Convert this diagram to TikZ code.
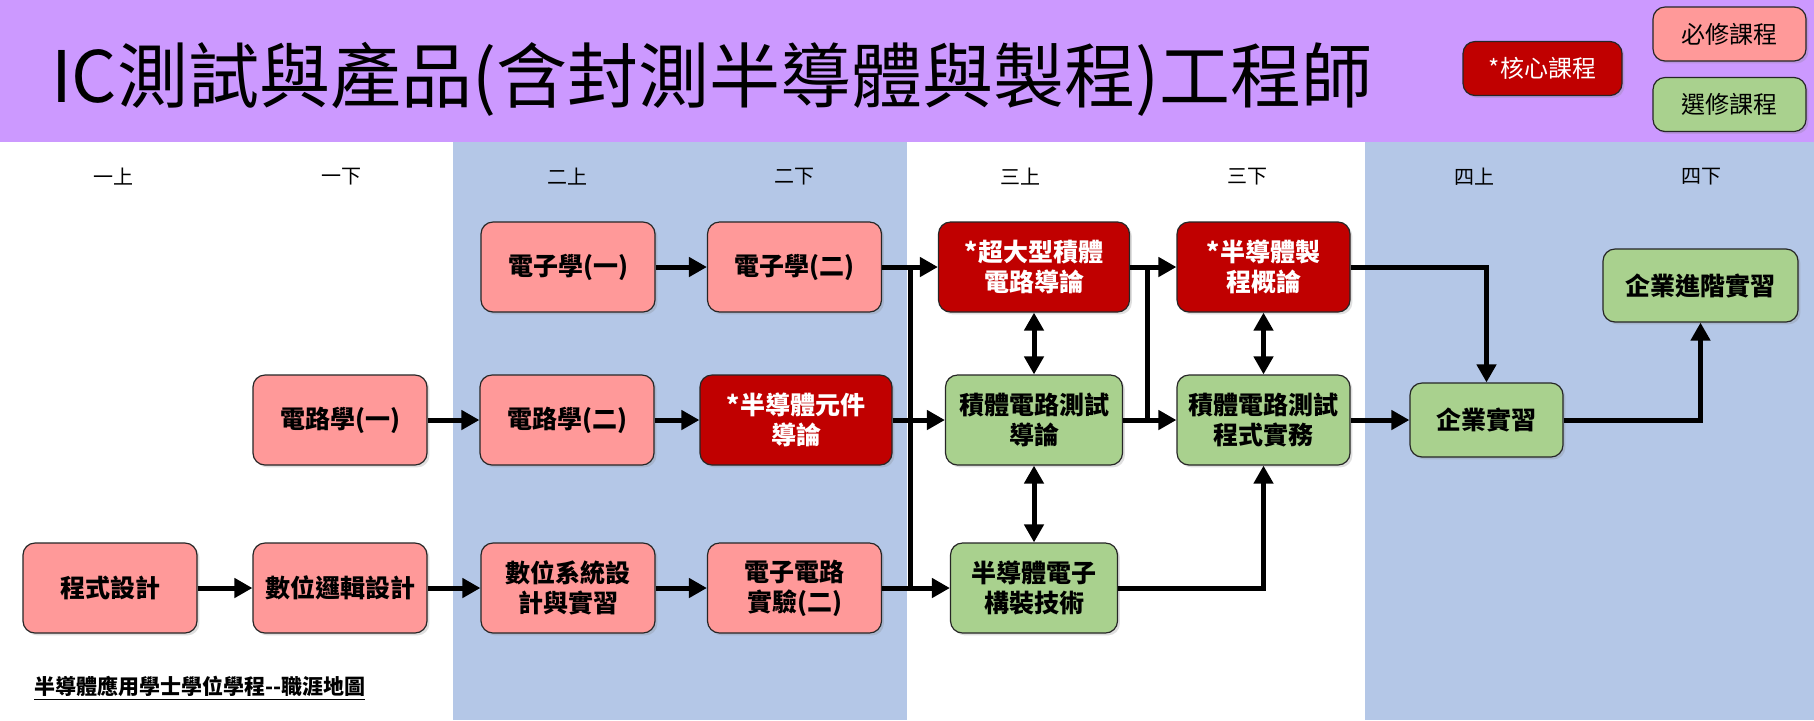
\documentclass[tikz,border=0pt]{standalone}
\usepackage{fontspec}
\setmainfont{Noto Sans CJK TC}
\usepackage{tikz}
\usetikzlibrary{arrows.meta,positioning,calc,shadows}
\definecolor{head}{RGB}{204,153,255}
\definecolor{band}{RGB}{180,199,231}
\definecolor{req}{RGB}{255,153,153}
\definecolor{ele}{RGB}{169,209,142}
\definecolor{core}{RGB}{192,0,0}

\begin{document}
\begin{tikzpicture}[x=0.5pt, y=-0.5pt, font=\bfseries\fontsize{12.5}{15}\selectfont, box/.style={draw=black!85, line width=0.6pt, rounded corners=6pt, align=center, inner sep=2pt, minimum width=87pt, minimum height=45pt, drop shadow={opacity=0.25, shadow xshift=1.2pt, shadow yshift=-1.2pt}}, rq/.style={box, fill=req}, el/.style={box, fill=ele}, cr/.style={box, fill=core, text=white}, arr/.style={-{Triangle[length=9pt,width=9.5pt]}, line width=2.5pt}, dbl/.style={{Triangle[length=9pt,width=9.5pt]}-{Triangle[length=9pt,width=9.5pt]}, line width=2.5pt}, lin/.style={line width=2.5pt}, sem/.style={font=\fontsize{10}{12}\selectfont}, leg/.style={minimum height=27pt, font=\fontsize{12}{14}\selectfont}]
\fill[white] (0,0) rectangle (1814,720);
\fill[head] (0,0) rectangle (1814,142);
\fill[band] (453,142) rectangle (907,720);
\fill[band] (1365,142) rectangle (1814,720);
\node[anchor=west, font=\fontsize{35.5}{40}\selectfont] (title) at (44,79) {IC測試與產品(含封測半導體與製程)工程師};
\node[cr, leg, minimum width=79.5pt] (lcore) at (1542.5,68.5) {*核心課程};
\node[rq, leg, minimum width=76.5pt] (lreq) at (1729.5,34) {必修課程};
\node[el, leg, minimum width=76.5pt] (lele) at (1729.5,104.5) {選修課程};
\foreach \x/\t [count=\i] in {113/一上,341/一下,567/二上,794/二下,1020/三上,1247/三下,1474/四上,1701/四下}
  \node[sem] (sem\i) at (\x,177) {\t};
\node[rq] (ee1) at (568,267) {電子學(一)};
\node[rq] (ee2) at (794.5,267) {電子學(二)};
\node[rq] (ckt1) at (340,420) {電路學(一)};
\node[rq] (ckt2) at (567,420) {電路學(二)};
\node[cr, minimum width=96pt] (dev) at (796,420) {*半導體元件\\導論};
\node[rq] (prog) at (110,588) {程式設計};
\node[rq] (dlogic) at (340,588) {數位邏輯設計};
\node[rq] (dsys) at (568,588) {數位系統設\\計與實習};
\node[rq] (lab2) at (794.5,588) {電子電路\\實驗(二)};
\node[cr, minimum width=95.5pt] (vlsi) at (1034,267) {*超大型積體\\電路導論};
\node[el, minimum width=88.5pt] (ictest) at (1034,420) {積體電路測試\\導論};
\node[el, minimum width=83.5pt] (pkg) at (1034,588) {半導體電子\\構裝技術};
\node[cr, minimum width=86.5pt] (proc) at (1263.5,267) {*半導體製\\程概論};
\node[el, minimum width=86.5pt] (icprog) at (1263.5,420) {積體電路測試\\程式實務};
\node[el, minimum width=76.5pt, minimum height=37pt] (intern) at (1486.5,420) {企業實習};
\node[el, minimum width=97.5pt, minimum height=36.5pt] (advintern) at (1700.5,285.5) {企業進階實習};
\node[anchor=west, font=\bfseries\fontsize{10.5}{13}\selectfont] (foot) at (27,688) {\underline{半導體應用學士學位學程-{}-職涯地圖}};
\coordinate (bus) at (910,0);
\coordinate (bus2) at (1147,0);
\draw[arr] (ee1) -- (ee2);
\draw[arr] (ckt1) -- (ckt2);
\draw[arr] (ckt2) -- (dev);
\draw[arr] (prog) -- (dlogic);
\draw[arr] (dlogic) -- (dsys);
\draw[arr] (dsys) -- (lab2);
\draw[lin] (ee2.east -| bus) -- (lab2.east -| bus);
\draw[arr] (ee2) -- (vlsi);
\draw[arr] (dev) -- (ictest);
\draw[arr] (lab2) -- (pkg);
\draw[lin] (vlsi.east -| bus2) -- (ictest.east -| bus2);
\draw[arr] (vlsi) -- (proc);
\draw[arr] (ictest) -- (icprog);
\draw[dbl] (vlsi) -- (ictest);
\draw[dbl] (ictest) -- (pkg);
\draw[dbl] (proc) -- (icprog);
\draw[arr] (pkg) -| (icprog);
\draw[arr] (proc) -| (intern);
\draw[arr] (icprog) -- (intern);
\draw[arr] (intern) -| (advintern);
\end{tikzpicture}
\end{document}
